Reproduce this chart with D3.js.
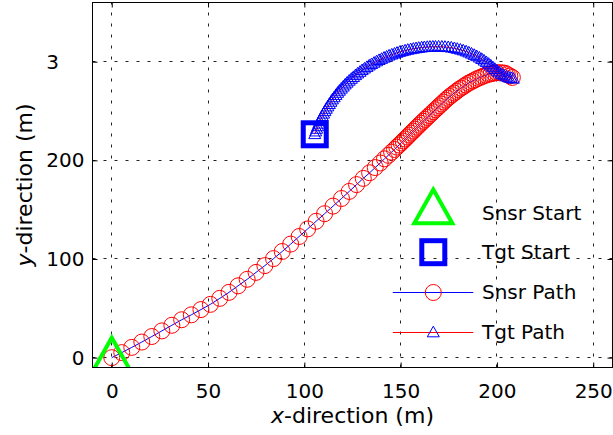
<!DOCTYPE html>
<html>
<head>
<meta charset="utf-8">
<script src="https://d3js.org/d3.v7.min.js"></script>
<style>
  body { margin: 0; background: #fff; }
  svg { display: block; font-family: "DejaVu Sans", sans-serif; }
</style>
</head>
<body>
<svg width="613" height="435"></svg>
<script>

// axis ticks
const xTicks = [0, 50, 100, 150, 200, 250];
const yTicks = [0, 100, 200, 300];
const yTickLabels = ["0", "100", "200", "3"];
const legendLabels = ["Snsr Start", "Tgt Start", "Snsr Path", "Tgt Path"];

// sensor path (m)
const snsrX = [0, 5.2, 10.4, 15.6, 20.8, 26, 31.2, 36.3, 41.3, 46.3,
  51.2, 56.1, 60.9, 65.6, 70.3, 74.9, 79.5, 84.0, 88.5, 92.9,
  97.3, 101.7, 106.1, 110.5, 114.9, 119.3, 123.3, 127.1, 130.6, 133.9,
  136.8, 139.4, 141.6, 143.6, 145.3, 146.8, 148.0, 149.2, 150.3, 151.3,
  152.4, 153.4, 154.4, 155.4, 156.5, 157.5, 158.5, 159.6, 160.6, 161.7,
  162.7, 163.8, 164.8, 165.9, 166.9, 168.0, 169.1, 170.1, 171.2, 172.3,
  173.3, 174.4, 175.5, 176.7, 177.8, 179.0, 180.1, 181.3, 182.6, 183.8,
  185.0, 186.3, 187.5, 188.8, 190.1, 191.5, 192.8, 194.2, 195.6, 197.0,
  198.4, 199.8, 201.3, 202.8, 204.2, 205.4, 206.7, 208.0];
const snsrY = [0, 5.1, 10.4, 15.8, 21.4, 27.1, 32.8, 38.4, 43.4, 48.7,
  54.0, 60.1, 66.2, 72.8, 79.4, 86.4, 93.3, 100.4, 107.6, 115.1,
  122.8, 130.5, 138.2, 145.9, 153.6, 161.3, 168.5, 175.4, 181.7, 187.4,
  192.7, 197.3, 201.5, 205.1, 208.3, 211.0, 213.4, 215.5, 217.6, 219.6,
  221.6, 223.6, 225.6, 227.6, 229.6, 231.6, 233.6, 235.6, 237.6, 239.6,
  241.5, 243.5, 245.4, 247.4, 249.3, 251.3, 253.2, 255.2, 257.1, 259.1,
  261.0, 262.9, 264.7, 266.5, 268.2, 269.9, 271.7, 273.2, 274.8, 276.4,
  278.0, 279.2, 280.5, 281.8, 283.1, 284.2, 285.3, 286.3, 287.2, 287.8,
  288.4, 288.9, 288.8, 288.7, 288.3, 286.9, 285.5, 284.0];

// target path (m)
const tgtX = [105.4, 105.9, 106.4, 106.9, 107.5, 108.0, 108.7, 109.3, 110.0, 110.7,
  111.4, 112.2, 113.0, 113.8, 114.6, 115.5, 116.4, 117.3, 118.2, 119.2,
  120.2, 121.2, 122.2, 123.3, 124.4, 125.5, 126.6, 127.7, 128.9, 130.0,
  131.2, 132.5, 133.7, 134.9, 136.2, 137.5, 138.8, 140.1, 141.4, 142.7,
  144.0, 145.4, 146.8, 148.1, 149.5, 150.9, 152.3, 153.7, 155.2, 156.6,
  158.0, 159.4, 160.9, 162.3, 163.8, 165.2, 166.7, 168.1, 169.7, 171.4,
  173.0, 174.7, 176.3, 177.9, 179.4, 181.0, 182.5, 184.0, 185.4, 186.8,
  188.2, 189.5, 190.9, 192.1, 193.3, 194.5, 195.7, 196.8, 197.9, 198.9,
  200.0, 201.2, 202.3, 203.6, 204.9, 206.1, 207.4, 208.5];
const tgtY = [226.4, 229.1, 231.8, 234.4, 237.0, 239.6, 242.1, 244.7, 247.2, 249.7,
  252.1, 254.5, 256.9, 259.2, 261.6, 263.8, 266.1, 268.3, 270.4, 272.5,
  274.6, 276.7, 278.6, 280.6, 282.5, 284.3, 286.2, 287.9, 289.6, 291.3,
  292.9, 294.5, 296.0, 297.4, 298.8, 300.2, 301.5, 302.7, 303.9, 305.0,
  306.1, 307.1, 308.0, 308.9, 309.8, 310.5, 311.2, 311.9, 312.5, 313.0,
  313.5, 313.9, 314.3, 314.6, 314.8, 315.0, 315.1, 315.1, 315.2, 315.1,
  314.9, 314.6, 314.2, 313.6, 312.9, 312.1, 311.3, 310.3, 309.2, 308.0,
  306.7, 305.4, 304.0, 302.6, 301.0, 299.4, 297.7, 296.0, 294.2, 292.5,
  290.7, 289.0, 287.5, 286.1, 284.8, 283.9, 283.3, 282.6];

const snsr = snsrX.map((x, i) => ({x: x, y: snsrY[i]}));
const tgt = tgtX.map((x, i) => ({x: x, y: tgtY[i]}));

const svg = d3.select("svg");
const pLeft = 92.5, pRight = 612.5, pTop = 2.5, pBottom = 367.5;

const x = d3.scaleLinear().domain([-10, 260]).range([pLeft, pRight]);
const y = d3.scaleLinear().domain([-10, 360]).range([pBottom, pTop]);

svg.append("clipPath").attr("id", "plot")
  .append("rect")
    .attr("x", pLeft).attr("y", pTop)
    .attr("width", pRight - pLeft).attr("height", pBottom - pTop);

// grid
const grid = svg.append("g")
    .attr("stroke", "#222")
    .attr("stroke-width", 1)
    .attr("stroke-dasharray", "3,8");

grid.selectAll(".gx")
  .data(xTicks)
  .join("line")
    .attr("x1", d => Math.floor(x(d)) + 0.5).attr("x2", d => Math.floor(x(d)) + 0.5)
    .attr("y1", pBottom).attr("y2", pTop);

grid.selectAll(".gy")
  .data(yTicks)
  .join("line")
    .attr("y1", d => Math.floor(y(d)) + 0.5).attr("y2", d => Math.floor(y(d)) + 0.5)
    .attr("x1", pLeft).attr("x2", pRight);

// triangle marker, s = half width
const tri = s => `M0,${-1.05 * s}L${s},${0.72 * s}L${-s},${0.72 * s}Z`;

const line = d3.line().x(d => x(d.x)).y(d => y(d.y));

const plot = svg.append("g").attr("clip-path", "url(#plot)");

// sensor path
plot.append("path")
    .datum(snsr)
    .attr("d", line)
    .attr("fill", "none")
    .attr("stroke", "#0000ff")
    .attr("stroke-width", 1);

plot.selectAll(".snsr")
  .data(snsr)
  .join("circle")
    .attr("cx", d => x(d.x))
    .attr("cy", d => y(d.y))
    .attr("r", 8)
    .attr("fill", "none")
    .attr("stroke", "#ff0000")
    .attr("stroke-width", 1);

// target path
plot.append("path")
    .datum(tgt)
    .attr("d", line)
    .attr("fill", "none")
    .attr("stroke", "#ff0000")
    .attr("stroke-width", 1);

plot.selectAll(".tgt")
  .data(tgt)
  .join("path")
    .attr("transform", d => `translate(${x(d.x)},${y(d.y)})`)
    .attr("d", tri(6))
    .attr("fill", "none")
    .attr("stroke", "#0000ff")
    .attr("stroke-width", 1);

// start markers
plot.append("path")
    .attr("transform", `translate(${x(snsr[0].x)},${y(snsr[0].y)})`)
    .attr("d", tri(19))
    .attr("fill", "none")
    .attr("stroke", "#00ff00")
    .attr("stroke-width", 4);

plot.append("rect")
    .attr("x", x(tgt[0].x) - 11.5)
    .attr("y", y(tgt[0].y) - 11.5)
    .attr("width", 23).attr("height", 23)
    .attr("fill", "none")
    .attr("stroke", "#0000ff")
    .attr("stroke-width", 5);

// axes
svg.append("g")
    .attr("transform", `translate(0,${pBottom})`)
    .call(d3.axisBottom(x).tickValues(xTicks).tickSizeInner(-5).tickSizeOuter(0).tickPadding(16));

svg.append("g")
    .attr("transform", `translate(0,${pTop})`)
    .call(d3.axisTop(x).tickValues(xTicks).tickSizeInner(-5).tickSizeOuter(0).tickFormat(""));

const gy = svg.append("g")
    .attr("transform", `translate(${pLeft},0)`)
    .call(d3.axisLeft(y).tickValues(yTicks).tickSizeInner(-5).tickSizeOuter(0).tickPadding(8));

svg.append("g")
    .attr("transform", `translate(${pRight},0)`)
    .call(d3.axisRight(y).tickValues(yTicks).tickSizeInner(-5).tickSizeOuter(0).tickFormat(""));

svg.selectAll(".domain").remove();
svg.selectAll(".tick line").attr("stroke", "#000");
svg.selectAll(".tick text")
    .attr("fill", "#000")
    .style("font-family", "DejaVu Sans")
    .style("font-size", "20px");

// short y labels keep the left edge of the full number
gy.selectAll(".tick text").each(function(d, i) {
  const full = this.getComputedTextLength();
  const t = d3.select(this).text(yTickLabels[i]);
  if (yTickLabels[i] !== String(d)) {
    t.attr("text-anchor", "start").attr("x", -8 - full);
  }
});

svg.append("rect")
    .attr("x", pLeft).attr("y", pTop)
    .attr("width", pRight - pLeft).attr("height", pBottom - pTop)
    .attr("fill", "none")
    .attr("stroke", "#000")
    .attr("stroke-width", 1);

// axis labels
const xl = svg.append("text")
    .attr("x", (pLeft + pRight) / 2)
    .attr("y", 423)
    .attr("text-anchor", "middle")
    .style("font-size", "22px");
xl.append("tspan").style("font-style", "italic").text("x");
xl.append("tspan").text("-direction (m)");

const yl = svg.append("text")
    .attr("transform", `translate(32,${(pTop + pBottom) / 2}) rotate(-90)`)
    .attr("text-anchor", "middle")
    .style("font-size", "22px");
yl.append("tspan").style("font-style", "italic").text("y");
yl.append("tspan").text("-direction (m)");

// legend
const lgX = 433.3, lgY = 212.5, lgRow = 39.7;
const rowY = i => Math.round(lgY + i * lgRow) + 0.5;
const lg = svg.append("g");

lg.append("path")
    .attr("transform", `translate(${lgX},${lgY - 3})`)
    .attr("d", tri(19))
    .attr("fill", "none")
    .attr("stroke", "#00ff00")
    .attr("stroke-width", 4);

lg.append("rect")
    .attr("x", lgX - 11.5).attr("y", lgY + lgRow - 11.5)
    .attr("width", 23).attr("height", 23)
    .attr("fill", "none")
    .attr("stroke", "#0000ff")
    .attr("stroke-width", 5);

lg.append("line")
    .attr("x1", lgX - 40.5).attr("x2", lgX + 40)
    .attr("y1", rowY(2)).attr("y2", rowY(2))
    .attr("stroke", "#0000ff");
lg.append("circle")
    .attr("cx", lgX).attr("cy", rowY(2))
    .attr("r", 8)
    .attr("fill", "none")
    .attr("stroke", "#ff0000");

lg.append("line")
    .attr("x1", lgX - 40.5).attr("x2", lgX + 40)
    .attr("y1", rowY(3)).attr("y2", rowY(3))
    .attr("stroke", "#ff0000");
lg.append("path")
    .attr("transform", `translate(${lgX},${rowY(3)})`)
    .attr("d", tri(6))
    .attr("fill", "none")
    .attr("stroke", "#0000ff");

lg.selectAll(".lt")
  .data(legendLabels)
  .join("text")
    .attr("x", 482)
    .attr("y", (d, i) => lgY + i * lgRow)
    .attr("dy", "0.36em")
    .style("font-size", "20px")
    .text(d => d);

</script>
</body>
</html>
